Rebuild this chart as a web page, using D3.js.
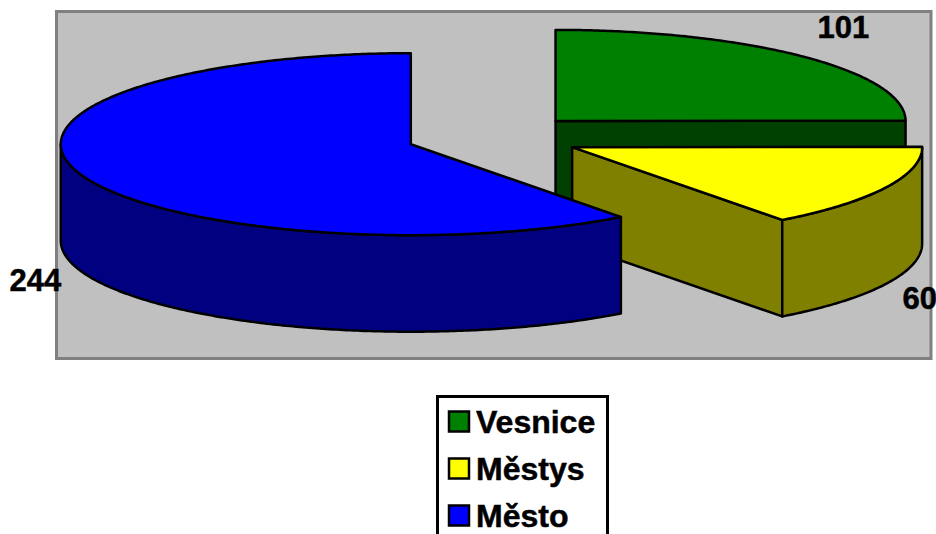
<!DOCTYPE html>
<html>
<head>
<meta charset="utf-8">
<script src="https://cdnjs.cloudflare.com/ajax/libs/d3/7.8.5/d3.min.js"></script>
<style>
  html, body { margin: 0; padding: 0; background: #fff; overflow: hidden; }
  text { font-family: "Liberation Sans", Arial, sans-serif; font-weight: bold; fill: #000; stroke: #000; stroke-width: 0.5; }
</style>
</head>
<body>
<div id="chart"></div>
<script>
var categories = ["Vesnice", "Městys", "Město"];
var values = [101, 60, 244];

var topColors = ["#008000", "#ffff00", "#0000ff"];
var sideColors = ["#004000", "#808000", "#000080"];

var width = 936, height = 534;
var center = { x: 493.8, y: 137 },
  rx = 350,
  ry = 91,
  depth = 96.5,
  explode = 0.25;

// where the value labels sit, same order as categories
var labelPos = [[817.5, 38], [902.5, 309], [9.5, 291]];

var svg = d3.select("#chart").append("svg")
  .attr("width", width)
  .attr("height", height)
  .style("display", "block");

// plot area
svg.append("rect")
  .attr("x", 56.5)
  .attr("y", 11.5)
  .attr("width", 874.5)
  .attr("height", 347)
  .attr("fill", "#c0c0c0")
  .attr("stroke", "#808080")
  .attr("stroke-width", 3);

var pie = d3.pie().sort(null).value(function (d) { return d; });
var arcs = pie(values);

// unit circle -> flattened ellipse on screen
var xScale = d3.scaleLinear().domain([-1, 1]).range([center.x - rx, center.x + rx]);
var yScale = d3.scaleLinear().domain([-1, 1]).range([center.y + ry, center.y - ry]);

function sliceOrigin(d) {
  var mid = (d.startAngle + d.endAngle) / 2;
  return [explode * Math.sin(mid), explode * Math.cos(mid)];
}

function pt(o, a, drop) {
  return [xScale(o[0] + Math.sin(a)), yScale(o[1] + Math.cos(a)) + (drop || 0)];
}

function centerPt(o, drop) {
  return [xScale(o[0]), yScale(o[1]) + (drop || 0)];
}

function angles(a0, a1) {
  var n = Math.max(2, Math.ceil((a1 - a0) / 0.01));
  return d3.range(n + 1).map(function (i) { return a0 + (a1 - a0) * i / n; });
}

var line = d3.line();

function drawShape(points, fill) {
  svg.append("path")
    .attr("d", line(points) + "Z")
    .attr("fill", fill)
    .attr("stroke", "#000")
    .attr("stroke-width", 2.5)
    .attr("stroke-linejoin", "round");
}

arcs.forEach(function (d, i) {
  var o = sliceOrigin(d);

  // cut faces, only those turned to the viewer
  [[d.startAngle, -1], [d.endAngle, 1]].forEach(function (f) {
    if (f[1] * Math.sin(f[0]) > 1e-6) {
      drawShape([centerPt(o), pt(o, f[0]), pt(o, f[0], depth), centerPt(o, depth)], sideColors[i]);
    }
  });

  // outer wall, front half only
  var a0 = Math.max(d.startAngle, Math.PI / 2),
    a1 = Math.min(d.endAngle, Math.PI * 1.5);
  if (a1 > a0) {
    var rim = angles(a0, a1);
    var wall = rim.map(function (a) { return pt(o, a); })
      .concat(rim.slice().reverse().map(function (a) { return pt(o, a, depth); }));
    drawShape(wall, sideColors[i]);
  }

  // top
  var top = [centerPt(o)].concat(angles(d.startAngle, d.endAngle).map(function (a) { return pt(o, a); }));
  drawShape(top, topColors[i]);
});

// value labels
svg.selectAll("text.value")
  .data(values)
  .enter()
  .append("text")
  .attr("class", "value")
  .attr("x", function (d, i) { return labelPos[i][0]; })
  .attr("y", function (d, i) { return labelPos[i][1]; })
  .attr("font-size", 31)
  .text(function (d) { return d; });

// legend, runs off the bottom of the picture
svg.append("rect")
  .attr("x", 437.5)
  .attr("y", 396.5)
  .attr("width", 170)
  .attr("height", 170)
  .attr("fill", "#fff")
  .attr("stroke", "#000")
  .attr("stroke-width", 3);

var legendY = d3.scalePoint().domain(categories).range([421.5, 515.5]);

var legend = svg.selectAll("g.legend")
  .data(categories)
  .enter()
  .append("g")
  .attr("class", "legend")
  .attr("transform", function (d) { return "translate(0," + legendY(d) + ")"; });

legend.append("rect")
  .attr("x", 449)
  .attr("y", -10)
  .attr("width", 20)
  .attr("height", 20)
  .attr("fill", function (d, i) { return topColors[i]; })
  .attr("stroke", "#000")
  .attr("stroke-width", 2.5);

legend.append("text")
  .attr("x", 476)
  .attr("y", 11)
  .attr("font-size", 32)
  .text(function (d) { return d; });
</script>
</body>
</html>
